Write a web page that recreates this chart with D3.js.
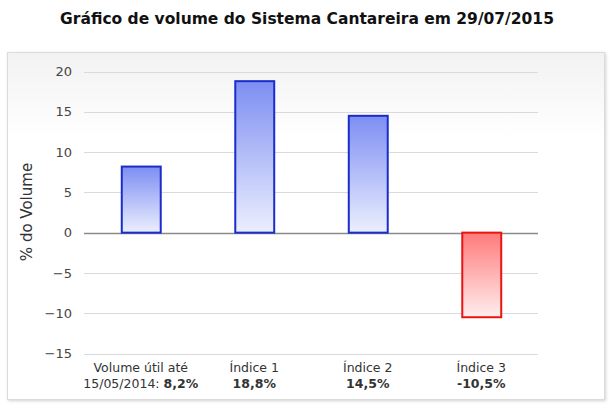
<!DOCTYPE html>
<html><head><meta charset="utf-8">
<script src="https://cdn.jsdelivr.net/npm/d3@7"></script>
<style>body{margin:0;background:#fff}svg{display:block}</style>
</head><body>
<svg id="c" width="614" height="411"></svg>
<script>
const title = "Gráfico de volume do Sistema Cantareira em 29/07/2015";
const categories = ["Volume útil até 15/05/2014", "Índice 1", "Índice 2", "Índice 3"];
const labelLine1 = ["Volume útil até", "Índice 1", "Índice 2", "Índice 3"];
const labelPrefix = ["15/05/2014: ", "", "", ""];
const labelValue = ["8,2%", "18,8%", "14,5%", "-10,5%"];
const values = [8.2, 18.8, 14.5, -10.5];
const yTicks = [-15, -10, -5, 0, 5, 10, 15, 20];
const yTitle = "% do Volume";

const svg = d3.select("#c");
const font = "'DejaVu Sans', Verdana, sans-serif";
const defs = svg.append("defs");
const bg = defs.append("linearGradient").attr("id","bg").attr("x1",0).attr("y1",0).attr("x2",0).attr("y2",1);
bg.append("stop").attr("offset","0").attr("stop-color","#f2f2f2");
bg.append("stop").attr("offset","0.25").attr("stop-color","#ffffff");
const gb = defs.append("linearGradient").attr("id","gb").attr("x1",0).attr("y1",0).attr("x2",0).attr("y2",1);
gb.append("stop").attr("offset","0").attr("stop-color","#7d8ef2");
gb.append("stop").attr("offset","1").attr("stop-color","#eceffe");
const gr = defs.append("linearGradient").attr("id","gr").attr("x1",0).attr("y1",0).attr("x2",0).attr("y2",1);
gr.append("stop").attr("offset","0").attr("stop-color","#ff7a7a");
gr.append("stop").attr("offset","1").attr("stop-color","#ffeeee");
const sh = defs.append("filter").attr("id","sh").attr("x","-5%").attr("y","-5%").attr("width","110%").attr("height","110%");
sh.append("feDropShadow").attr("dx",1).attr("dy",1).attr("stdDeviation",1.5).attr("flood-color","#000").attr("flood-opacity",0.18);

svg.append("text").attr("x",307).attr("y",24).attr("text-anchor","middle")
  .attr("font-family",font).attr("font-weight","bold").attr("font-size",15.5).attr("fill","#111").text(title);

svg.append("rect").attr("x",7.5).attr("y",52.5).attr("width",597).attr("height",347)
  .attr("fill","url(#bg)").attr("stroke","#dcdcdc").attr("filter","url(#sh)");

const left=84, right=538;
const y = d3.scaleLinear().domain([-15,20]).range([353.5,71.5]);
const x = d3.scaleBand().domain(categories).range([left,right]).paddingInner(0.648).paddingOuter(0.324);

const g = svg.append("g");
g.selectAll("line.grid").data(yTicks).join("line")
  .attr("x1",left).attr("x2",right).attr("y1",d=>Math.round(y(d))+0.5).attr("y2",d=>Math.round(y(d))+0.5)
  .attr("stroke",d=>d===0?"#8a8a8a":"#dadada").attr("stroke-width",d=>d===0?1.5:1);

const yAxis = svg.append("g").attr("transform",`translate(${left-12},0)`)
  .call(d3.axisLeft(y).tickValues(yTicks).tickSize(0).tickPadding(0));
yAxis.select(".domain").remove();
yAxis.selectAll("text").attr("font-family",font).attr("font-size",13).attr("fill","#444");

svg.append("text").attr("transform",`translate(32,212) rotate(-90)`).attr("text-anchor","middle")
  .attr("font-family",font).attr("font-size",15).attr("fill","#333").text(yTitle);

svg.selectAll("rect.bar").data(values).join("rect").attr("class","bar")
  .attr("x",(d,i)=>x(categories[i])+1)
  .attr("width",x.bandwidth()-1)
  .attr("y",d=>y(Math.max(0,d)))
  .attr("height",d=>Math.abs(y(d)-y(0)))
  .attr("fill",d=>d<0?"url(#gr)":"url(#gb)")
  .attr("stroke",d=>d<0?"#e81515":"#1a2dcc").attr("stroke-width",2);

const lab = svg.append("g");
categories.forEach((c,i)=>{
  const cx = x(c)+x.bandwidth()/2;
  lab.append("text").attr("x",cx).attr("y",372).attr("text-anchor","middle")
    .attr("font-family",font).attr("font-size",12.5).attr("fill","#333").text(labelLine1[i]);
  const t = lab.append("text").attr("x",cx).attr("y",388).attr("text-anchor","middle")
    .attr("font-family",font).attr("font-size",12.5).attr("fill","#333");
  if(labelPrefix[i]) t.append("tspan").text(labelPrefix[i]);
  t.append("tspan").attr("font-weight","bold").text(labelValue[i]);
});
</script>
</body></html>
